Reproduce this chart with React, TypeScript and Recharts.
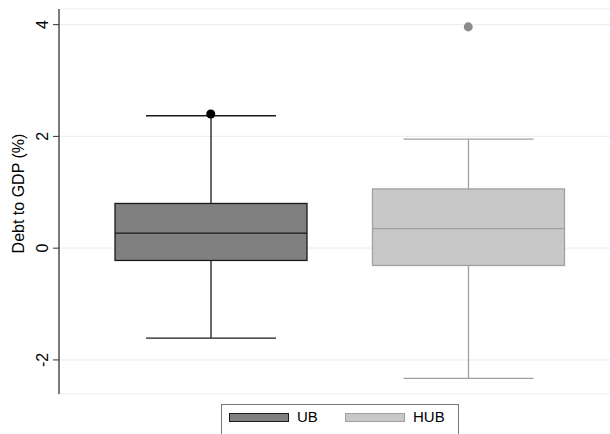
import { ComposedChart, Bar, Scatter, Cell, XAxis, YAxis, CartesianGrid } from 'recharts';

const GROUPS = ['UB', 'HUB'];
const WHISKER_LOW = [-1.61, -2.33];
const Q1 = [-0.22, -0.31];
const MEDIAN = [0.27, 0.35];
const Q3 = [0.8, 1.06];
const WHISKER_HIGH = [2.37, 1.95];
const OUTLIERS = [2.4, 3.96];
const Y_TICKS = [-2, 0, 2, 4];

const FILLS = ['#808080', '#c8c8c8'];
const EDGES = ['#1a1a1a', '#a0a0a0'];
const DOTS = ['#000000', '#8c8c8c'];
const FONT = '"Liberation Sans", Arial, sans-serif';

interface BoxDatum {
  name: string;
  idx: number;
  range: [number, number];
  q1: number;
  median: number;
  q3: number;
  outlier: number;
}

const data: BoxDatum[] = GROUPS.map((name, i) => ({
  name,
  idx: i,
  range: [WHISKER_LOW[i], WHISKER_HIGH[i]],
  q1: Q1[i],
  median: MEDIAN[i],
  q3: Q3[i],
  outlier: OUTLIERS[i],
}));

// Bar spans whisker-low..whisker-high; box parts are placed inside that span.
function BoxShape(props: any): JSX.Element {
  const { x, y, width, height, payload } = props;
  const [lo, hi] = payload.range;
  const pix = (v: number) => y + (height * (hi - v)) / (hi - lo);
  const cx = x + width / 2;
  const cap = 65;
  const stroke = EDGES[payload.idx];
  const yq3 = pix(payload.q3);
  const yq1 = pix(payload.q1);
  return (
    <g>
      <line x1={cx} x2={cx} y1={pix(hi)} y2={yq3} stroke={stroke} strokeWidth={1.3} />
      <line x1={cx} x2={cx} y1={yq1} y2={pix(lo)} stroke={stroke} strokeWidth={1.3} />
      <line x1={cx - cap} x2={cx + cap} y1={pix(hi)} y2={pix(hi)} stroke={stroke} strokeWidth={1.3} />
      <line x1={cx - cap} x2={cx + cap} y1={pix(lo)} y2={pix(lo)} stroke={stroke} strokeWidth={1.3} />
      <rect x={x} y={yq3} width={width} height={yq1 - yq3} fill={FILLS[payload.idx]} stroke={stroke} strokeWidth={1.3} />
      <line x1={x} x2={x + width} y1={pix(payload.median)} y2={pix(payload.median)} stroke={stroke} strokeWidth={1.3} />
    </g>
  );
}

function YTick(props: any): JSX.Element {
  const { x, y, payload } = props;
  const tx = x - 3;
  return (
    <text x={tx} y={y} transform={`rotate(-90, ${tx}, ${y})`} textAnchor="middle" fontSize={16} fontFamily={FONT} fill="#000">
      {payload.value}
    </text>
  );
}

function YLabel(props: any): JSX.Element {
  const { viewBox } = props;
  const tx = 24;
  const ty = viewBox.y + viewBox.height / 2 - 8;
  return (
    <text x={tx} y={ty} transform={`rotate(-90, ${tx}, ${ty})`} textAnchor="middle" fontSize={16} fontFamily={FONT} fill="#000">
      Debt to GDP (%)
    </text>
  );
}

export default function App(): JSX.Element {
  return (
    <div style={{ position: 'absolute', left: 0, top: 0, width: 610, height: 434, background: '#fff', overflow: 'hidden' }}>
      <ComposedChart width={610} height={434} data={data} margin={{ top: 9, right: 0, bottom: 40, left: 0 }}>
        <CartesianGrid vertical={false} stroke="#eaf0f3" strokeWidth={1.2} />
        <XAxis
          dataKey="name"
          type="category"
          height={0}
          tick={false}
          tickLine={false}
          axisLine={{ stroke: '#333', strokeWidth: 1.3 }}
          padding={{ left: 23, right: 13 }}
        />
        <YAxis
          width={59}
          domain={[-2.61, 4.28]}
          ticks={Y_TICKS}
          allowDataOverflow
          tickSize={6}
          tickMargin={2}
          tick={<YTick />}
          tickLine={{ stroke: '#333' }}
          axisLine={{ stroke: '#333', strokeWidth: 1.3 }}
          label={<YLabel />}
        />
        <Bar dataKey="range" barSize={192} shape={<BoxShape />} isAnimationActive={false} />
        <Scatter dataKey="outlier" isAnimationActive={false}>
          {data.map((_, i) => (
            <Cell key={i} fill={DOTS[i]} />
          ))}
        </Scatter>
      </ComposedChart>
      <div
        style={{
          position: 'absolute',
          left: 221,
          top: 404,
          width: 236,
          height: 40,
          border: '1px solid #777',
          fontFamily: FONT,
          fontSize: 15,
        }}
      >
        {GROUPS.map((g, i) => (
          <div key={g}>
            <div
              style={{
                position: 'absolute',
                left: i === 0 ? 7 : 123,
                top: 8,
                width: 58,
                height: 7,
                background: FILLS[i],
                border: `1px solid ${EDGES[i]}`,
              }}
            />
            <div style={{ position: 'absolute', left: i === 0 ? 75 : 191, top: 3, lineHeight: '17px' }}>{g}</div>
          </div>
        ))}
      </div>
    </div>
  );
}
